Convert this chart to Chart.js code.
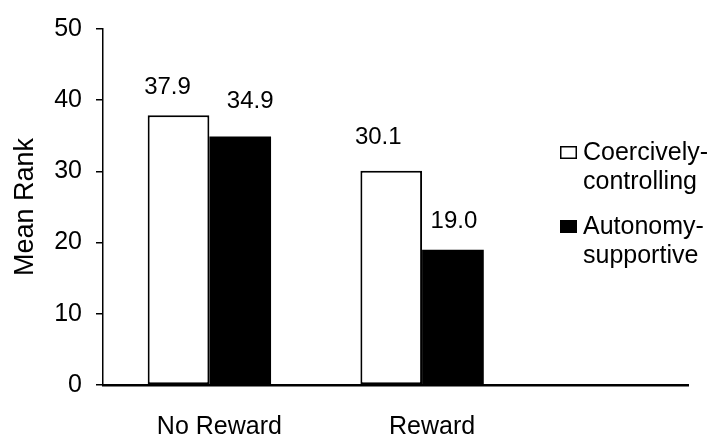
<!DOCTYPE html>
<html>
<head>
<meta charset="utf-8">
<script src="https://cdn.jsdelivr.net/npm/chart.js@4.4.1/dist/chart.umd.min.js"></script>
<style>
  html, body { margin: 0; padding: 0; background: #fff; }
  #wrap { width: 717px; height: 441px; position: relative; }
</style>
</head>
<body>
<div id="wrap"><canvas id="c" width="717" height="441"></canvas></div>
<script>
// Mean rank by reward condition and teaching style
const conditions = ['No Reward', 'Reward'];
const seriesNames = [['Coercively-', 'controlling'], ['Autonomy-', 'supportive']];
const coercive = [37.9, 30.1];
const autonomy = [34.9, 19.0];
const yTicks = [0, 10, 20, 30, 40, 50];

const FONT = '"Liberation Sans", Arial, sans-serif';

// value labels above the bars
const valueLabels = {
  id: 'valueLabels',
  afterDatasetsDraw(chart, args, opts) {
    const ctx = chart.ctx;
    ctx.save();
    ctx.font = opts.size + 'px ' + FONT;
    ctx.fillStyle = '#000';
    ctx.textAlign = 'center';
    ctx.textBaseline = 'alphabetic';
    chart.data.datasets.forEach((ds, di) => {
      const meta = chart.getDatasetMeta(di);
      meta.data.forEach((bar, i) => {
        const v = ds.data[i].y;
        const dx = opts.dx[di][i], gap = opts.gap[di][i];
        ctx.fillText(v.toFixed(1), bar.x + dx, bar.y - gap);
      });
    });
    ctx.restore();
  }
};

// two-line legend on the right
const sideLegend = {
  id: 'sideLegend',
  afterDraw(chart, args, opts) {
    const ctx = chart.ctx;
    ctx.save();
    ctx.font = opts.size + 'px ' + FONT;
    ctx.textAlign = 'left';
    ctx.textBaseline = 'alphabetic';
    chart.data.datasets.forEach((ds, di) => {
      const top = opts.top + di * opts.step;
      ctx.fillStyle = ds.backgroundColor;
      ctx.fillRect(opts.x, top, opts.boxW, opts.boxH);
      ctx.strokeStyle = '#000';
      ctx.lineWidth = 1.5;
      ctx.strokeRect(opts.x + 0.75, top + 0.75, opts.boxW - 1.5, opts.boxH - 1.5);
      ctx.fillStyle = '#000';
      seriesNames[di].forEach((line, li) => {
        ctx.fillText(line, opts.x + opts.boxW + 6, top + opts.boxH + 1 + li * opts.lineGap);
      });
    });
    ctx.restore();
  }
};

const toPoints = arr => arr.map((v, i) => ({ x: i, y: v }));

new Chart(document.getElementById('c'), {
  type: 'bar',
  data: {
    datasets: [
      { label: seriesNames[0].join(''), data: toPoints(coercive), backgroundColor: '#ffffff',
        borderColor: '#000', borderWidth: 2, borderSkipped: false },
      { label: seriesNames[1].join(''), data: toPoints(autonomy), backgroundColor: '#000000',
        borderColor: '#000', borderWidth: 0, borderSkipped: false }
    ]
  },
  plugins: [valueLabels, sideLegend],
  options: {
    responsive: false,
    animation: false,
    events: [],
    layout: { padding: { left: 0, right: 29, top: 25, bottom: 0 } },
    datasets: { bar: { categoryPercentage: 0.58, barPercentage: 1.0 } },
    plugins: {
      legend: { display: false },
      tooltip: { enabled: false },
      valueLabels: { size: 24, dx: [[-11, -13], [10, 1]], gap: [[21, 27], [29, 22]] },
      sideLegend: { x: 560, top: 146, boxW: 17, boxH: 13, step: 74, lineGap: 29, size: 25 }
    },
    scales: {
      x: {
        type: 'linear',
        min: -0.5,
        max: 2.25,
        offset: false,
        afterFit(s) { s.height = 56; },
        afterBuildTicks(s) { s.ticks = conditions.map((c, i) => ({ value: i })); },
        ticks: {
          color: '#000',
          font: { family: FONT, size: 25 },
          padding: 27,
          labelOffset: 10,
          maxRotation: 0,
          autoSkip: false,
          callback: v => conditions[v]
        },
        grid: { display: false, drawTicks: false },
        border: { display: true, color: '#000', width: 2.5 }
      },
      y: {
        min: 0,
        max: 50,
        afterFit(s) { s.width = 103; },
        afterBuildTicks(s) { s.ticks = yTicks.map(v => ({ value: v })); },
        ticks: {
          color: '#000',
          font: { family: FONT, size: 25 },
          padding: 14
        },
        grid: { display: true, drawOnChartArea: false, drawTicks: true, tickLength: 7,
                color: '#000', lineWidth: 1.5 },
        border: { display: true, color: '#000', width: 1.5 },
        title: {
          display: true,
          text: 'Mean Rank',
          color: '#000',
          font: { family: FONT, size: 27 },
          padding: { top: 9, bottom: 0 }
        }
      }
    }
  }
});
</script>
</body>
</html>
